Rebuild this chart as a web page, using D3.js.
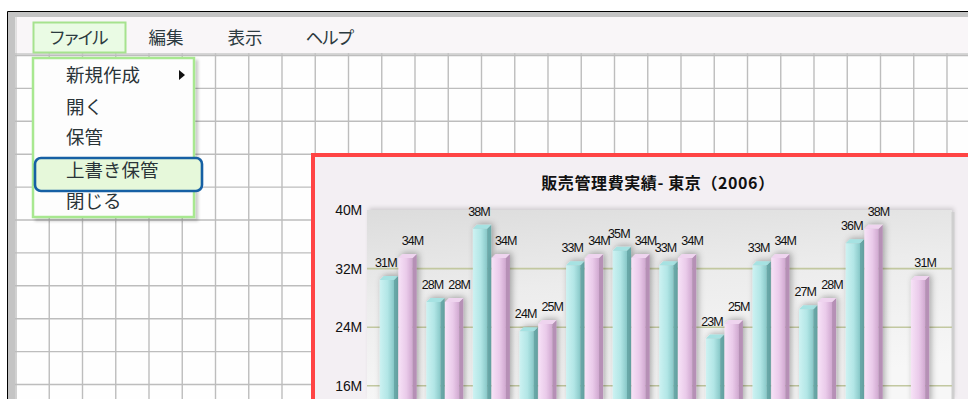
<!DOCTYPE html>
<html><head><meta charset="utf-8">
<script src="https://cdn.jsdelivr.net/npm/d3@7"></script>
<style>
html,body{margin:0;padding:0;background:#fff;overflow:hidden}
svg{display:block}
</style></head>
<body>
<script>
// ---- data ----
const months = ["1月","2月","3月","4月","5月","6月","7月","8月","9月","10月","11月","12月"];
const seriesNames = ["前年","本年"];
const seriesA = [31,28,38,24,33,35,33,23,33,27,36,null];   // cyan, millions
const seriesB = [34,28,34,25,34,34,34,25,34,28,38,31];     // pink, millions
const yTicks = [16,24,32,40];
const chartTitle = "販売管理費実績- 東京（2006）";
const menuItems = ["ファイル","編集","表示","ヘルプ"];
const fileMenu = ["新規作成","開く","保管","上書き保管","閉じる"];

const W = 968, H = 399;
const svg = d3.select("body").append("svg").attr("width", W).attr("height", H);
const defs = svg.append("defs");

function lin(id, stops, x2, y2){
  const g = defs.append("linearGradient").attr("id", id)
    .attr("x1",0).attr("y1",0).attr("x2",x2).attr("y2",y2);
  stops.forEach(s=>g.append("stop").attr("offset",s[0]).attr("stop-color",s[1]));
}
lin("cyanFace", [[0,"#cdf2f2"],[0.55,"#b2e6e6"],[1,"#88c8c8"]], 1, 0);
lin("pinkFace", [[0,"#f7e2f7"],[0.55,"#eacbea"],[1,"#d0a8d0"]], 1, 0);
lin("plotBg", [[0,"#dcdcdc"],[0.45,"#ececec"],[1,"#f7f7f7"]], 0.25, 1);
const sh = defs.append("filter").attr("id","barShadow").attr("x","-50%").attr("y","-20%").attr("width","200%").attr("height","140%");
sh.append("feDropShadow").attr("dx",2).attr("dy",-1).attr("stdDeviation",3.2).attr("flood-color","#000").attr("flood-opacity",0.32);
const psh = defs.append("filter").attr("id","plotShadow").attr("x","-5%").attr("y","-5%").attr("width","110%").attr("height","110%");
psh.append("feDropShadow").attr("dx",2).attr("dy",-2).attr("stdDeviation",2).attr("flood-color","#000").attr("flood-opacity",0.15);
const dsh = defs.append("filter").attr("id","menuShadow").attr("x","-10%").attr("y","-10%").attr("width","130%").attr("height","130%");
dsh.append("feDropShadow").attr("dx",3).attr("dy",3).attr("stdDeviation",1.5).attr("flood-color","#000").attr("flood-opacity",0.2);

// ---- window background & frame ----
svg.append("rect").attr("x",0).attr("y",0).attr("width",W).attr("height",H).attr("fill","#ffffff");
svg.append("rect").attr("x",8).attr("y",12).attr("width",W).attr("height",H).attr("fill","#c4c4c4");
svg.append("path").attr("d",`M7.5,${H} V11.5 H${W}`).attr("fill","none").attr("stroke","#000").attr("stroke-width",1);
svg.append("rect").attr("x",15).attr("y",17).attr("width",W).attr("height",H).attr("fill","#fefefe");

// grid paper
const gridG = svg.append("g").attr("stroke","#bdbdbd").attr("stroke-width",1.4);
for (let x = 16; x < W; x += 33.25) gridG.append("line").attr("x1",x).attr("x2",x).attr("y1",53).attr("y2",H);
for (let y = 55.5; y < H; y += 32.9) gridG.append("line").attr("x1",15).attr("x2",W).attr("y1",y).attr("y2",y);

// menu bar
svg.append("rect").attr("x",16).attr("y",17).attr("width",W).attr("height",36).attr("fill","#f9f6f8");
svg.append("line").attr("x1",16).attr("x2",16).attr("y1",17).attr("y2",55).attr("stroke","#d0d0d0").attr("stroke-width",1.2);
svg.append("line").attr("x1",15).attr("x2",W).attr("y1",54).attr("y2",54).attr("stroke","#c8c8c8").attr("stroke-width",1.5);
svg.append("rect").attr("x",33.5).attr("y",22.5).attr("width",92).attr("height",30).attr("fill","#eafbe4").attr("stroke","#a6e28e").attr("stroke-width",2);
const menuX = [77, 166, 245, 329];
svg.append("g").selectAll("text").data(menuItems).join("text")
  .attr("x",(d,i)=>menuX[i]).attr("y",44).attr("text-anchor","middle")
  .attr("font-family","'Noto Sans CJK JP',sans-serif").attr("font-size",17.5).attr("fill","#2c3a40")
  .attr("letter-spacing",(d,i)=>i===0?-3.2:(i===3?-2:0))
  .text(d=>d);

// ---- chart panel ----
svg.append("rect").attr("x",313).attr("y",155).attr("width",W).attr("height",H).attr("fill","#f3eff3")
  .attr("stroke","#ff4444").attr("stroke-width",4);

svg.append("text").attr("x",658).attr("y",189).attr("text-anchor","middle")
  .attr("font-family","'Noto Sans CJK JP',sans-serif").attr("font-weight","bold").attr("font-size",16)
  .attr("letter-spacing",0.6).attr("fill","#111").text(chartTitle);

const plotL = 367, plotR = 952, plotT = 210;
const y = d3.scaleLinear().domain([0,40]).range([503, plotT]);
const x0 = d3.scaleBand().domain(months).range([374.7, 933.9]);
const x1 = d3.scaleBand().domain(seriesNames).range([5, 42]).paddingInner(0.02);

svg.append("rect").attr("x",plotL).attr("y",plotT).attr("width",plotR-plotL).attr("height",H-plotT)
  .attr("fill","url(#plotBg)").attr("filter","url(#plotShadow)");
svg.append("line").attr("x1",plotR+1).attr("x2",plotR+1).attr("y1",plotT+2).attr("y2",H)
  .attr("stroke","#cfcfcf").attr("stroke-width",3);

// gridlines
svg.append("g").selectAll("line").data(yTicks.filter(t=>t<40)).join("line")
  .attr("x1",plotL).attr("x2",plotR).attr("y1",d=>y(d)).attr("y2",d=>y(d))
  .attr("stroke","#c2c8a0").attr("stroke-width",1.6);

// y axis labels via d3 axis
const yAxis = d3.axisLeft(y).tickValues(yTicks).tickFormat(d=>d+"M").tickSize(0).tickPadding(5);
const ya = svg.append("g").attr("transform",`translate(${plotL},0)`).call(yAxis);
ya.select(".domain").remove();
ya.selectAll("text").attr("font-family","'Liberation Sans',Arial,sans-serif").attr("font-size",14)
  .attr("letter-spacing",-0.2).attr("fill","#111");

// bars
const depth = 4;
const colors = {
  [seriesNames[0]]: {face:"url(#cyanFace)", side:"#6aaaaa", top:"#a6e2e2"},
  [seriesNames[1]]: {face:"url(#pinkFace)", side:"#b690b6", top:"#efd4ef"}
};
const barData = [];
months.forEach((m,i)=>{
  [[seriesNames[0], seriesA[i]],[seriesNames[1], seriesB[i]]].forEach(([s,v])=>{
    if (v != null) barData.push({m, s, v});
  });
});
const bw = x1.bandwidth();
const bars = svg.append("g").selectAll("g").data(barData).join("g")
  .attr("transform",d=>`translate(${x0(d.m)+x1(d.s)},0)`)
  .attr("filter","url(#barShadow)");
bars.append("rect").attr("x",0).attr("y",d=>y(d.v)+depth).attr("width",bw-depth).attr("height",d=>H-y(d.v))
  .attr("fill",d=>colors[d.s].face);
bars.append("path").attr("d",d=>{const t=y(d.v);return `M${bw-depth},${t+depth} L${bw},${t} L${bw},${H+5} L${bw-depth},${H+5} Z`;})
  .attr("fill",d=>colors[d.s].side);
bars.append("path").attr("d",d=>{const t=y(d.v);return `M0,${t+depth} L${depth},${t} L${bw},${t} L${bw-depth},${t+depth} Z`;})
  .attr("fill",d=>colors[d.s].top);

// value labels (cyan nudged left, pink nudged right so neighbours don't collide)
const labelShift = s => s === seriesNames[0] ? -3 : 5;
svg.append("g").selectAll("text").data(barData).join("text")
  .attr("x",d=>x0(d.m)+x1(d.s)+bw/2+labelShift(d.s)).attr("y",d=>y(d.v)-9).attr("text-anchor","middle")
  .attr("font-family","'Liberation Sans',Arial,sans-serif").attr("font-size",12.5).attr("letter-spacing",-0.9)
  .attr("fill","#111").text(d=>d.v+"M");

// ---- file dropdown menu ----
const dd = svg.append("g");
dd.append("rect").attr("x",33).attr("y",58).attr("width",161).attr("height",159).attr("fill","#fdfdfd")
  .attr("stroke","#a8e890").attr("stroke-width",2.5).attr("filter","url(#menuShadow)");
dd.append("rect").attr("x",35).attr("y",158).attr("width",167).attr("height",33).attr("rx",6)
  .attr("fill","#e6f8da").attr("stroke","#1660a4").attr("stroke-width",2.6);
const itemY = [82, 114, 144, 177, 208];
dd.selectAll("text").data(fileMenu).join("text")
  .attr("x",66).attr("y",(d,i)=>itemY[i])
  .attr("font-family","'Noto Sans CJK JP',sans-serif").attr("font-size",18.5).attr("fill","#2a3438")
  .text(d=>d);
dd.append("path").attr("d","M179,70 L185,75 L179,80 Z").attr("fill","#111");
</script>
</body></html>
